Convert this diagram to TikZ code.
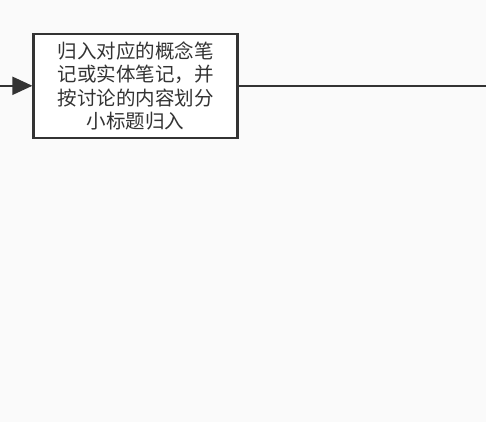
\documentclass[tikz,border=0pt]{standalone}
\usepackage{fontspec}
\newfontfamily\cjk{Noto Sans CJK SC}
\usetikzlibrary{arrows.meta,positioning}
\definecolor{bgcol}{HTML}{FAFAFA}
\definecolor{linecol}{HTML}{333333}
\definecolor{textcol}{HTML}{333333}

\begin{document}
\begin{tikzpicture}[x=1pt, y=1pt,
    stepbox/.style={draw=linecol, line width=2.4pt, fill=white,
        minimum width=204pt, minimum height=104pt, inner sep=0pt,
        text width=190pt, align=center, text=textcol,
        font=\cjk\fontsize{19.5}{23.5}\selectfont},
    link/.style={draw=linecol, line width=2pt}]
    % 背景
    \fill[bgcol] (0,0) rectangle (486,422);
    \useasboundingbox (0,0) rectangle (486,422);

    % 方框
    \node[stepbox] (gui) at (135.6,336.2)
        {归入对应的概念笔\\记或实体笔记，并\\按讨论的内容划分\\小标题归入};

    % 连线
    \coordinate (in) at (0,336.2);
    \coordinate (out) at (486,336.2);
    \draw[link, -{Triangle[length=20pt, width=18pt]}] (in) -- (gui.west);
    \draw[link] (gui.east) -- (out);
\end{tikzpicture}
\end{document}
